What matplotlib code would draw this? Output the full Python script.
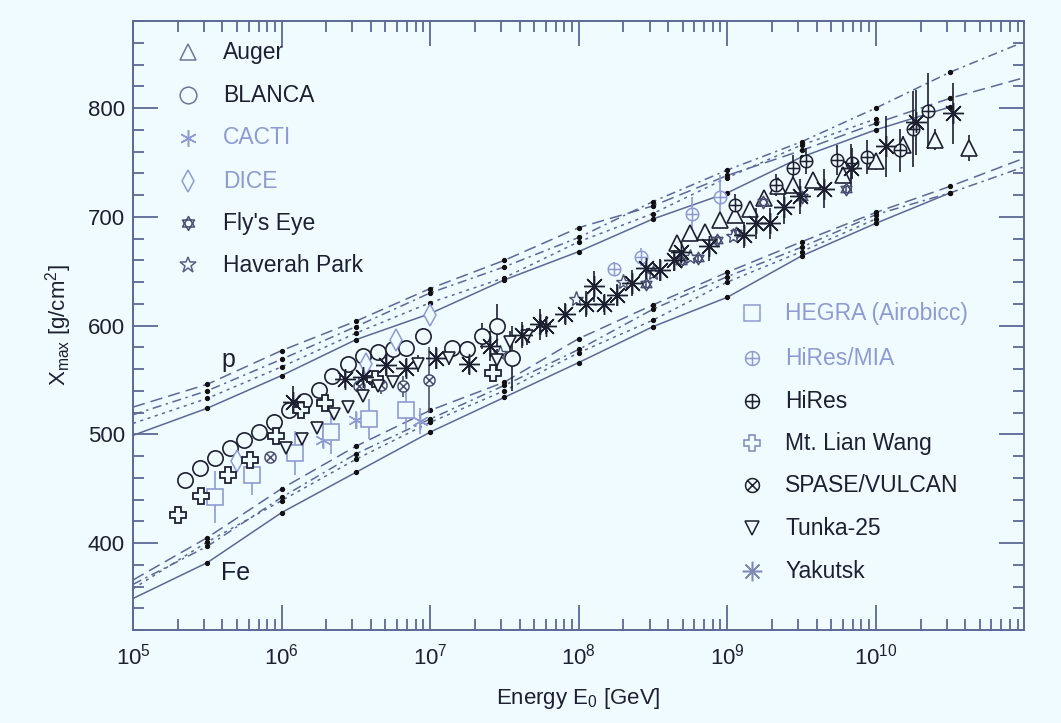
import numpy as np
import matplotlib
matplotlib.use('Agg')
import matplotlib.pyplot as plt
from matplotlib.path import Path
from matplotlib.ticker import LogLocator, MultipleLocator, NullFormatter

plt.rcParams['font.family'] = ['Liberation Sans', 'DejaVu Sans']
plt.rcParams['mathtext.default'] = 'regular'

# model curves, Xmax at half-decade energies (log10 E/GeV)
lg_model = [5.0, 5.5, 6.0, 6.5, 7.0, 7.5, 8.0, 8.5, 9.0, 9.5, 10.0, 10.5, 11.0]
p_dashed = [525, 546, 577, 604, 634, 660, 690, 710, 738, 761, 786, 809, 828]
p_dashdot = [518, 540, 569, 599, 630, 654, 681, 714, 743, 769, 800, 833, 861]
p_dotted = [510, 533, 562, 593, 621, 644, 677, 703, 736, 766, 790]
p_solid = [499, 524, 554, 587, 611, 642, 668, 698, 722, 755, 780, 801]
fe_dashed = [366, 405, 450, 489, 522, 548, 588, 619, 649, 677, 704, 728, 754]
fe_dashdot = [362, 397, 442, 482, 514, 545, 578, 615, 645, 672, 702, 722, 746]
fe_dotted = [358, 401, 439, 477, 511, 540, 575, 605, 640, 668, 698]
fe_solid = [349, 382, 428, 465, 502, 534, 566, 599, 626, 664, 694, 722]

# measurements: log10(E/GeV), Xmax, error
auger_lg = [8.66, 8.75, 8.85, 8.95, 9.05, 9.15, 9.25, 9.34, 9.44, 9.58, 9.78, 10.0, 10.18, 10.40, 10.63]
auger_x = [676, 685, 686, 697, 702, 707, 717, 728, 729, 734, 738, 751, 766, 771, 763]
auger_e = [5, 5, 5, 5, 5, 5, 6, 6, 6, 6, 7, 8, 8, 10, 12]

blanca_lg = [5.35, 5.45, 5.55, 5.65, 5.75, 5.85, 5.95, 6.05, 6.15, 6.25, 6.34, 6.45,
             6.55, 6.65, 6.75, 6.84, 6.95, 7.15, 7.25, 7.35, 7.45, 7.55]
blanca_x = [458, 469, 478, 487, 495, 502, 511, 522, 531, 541, 554, 565,
            572, 576, 578, 579, 590, 579, 578, 590, 600, 570]
blanca_e = [6, 6, 6, 6, 6, 6, 6, 6, 6, 6, 6, 6, 6, 6, 6, 6, 8, 8, 8, 12, 20, 30]

cacti_lg = [6.28, 6.50, 6.93]
cacti_x = [495, 513, 512]
cacti_e = [8, 8, 12]

dice_lg = [5.70, 6.57, 6.77, 7.0]
dice_x = [475, 565, 587, 610]
dice_e = [4, 5, 6, 10]

fly_lg = [8.45, 8.69, 8.80, 8.93, 9.06, 9.24, 9.50, 9.80]
fly_x = [638, 659, 662, 679, 685, 714, 718, 726]
fly_e = [4, 4, 4, 4, 4, 5, 5, 6]

haverah_lg = [7.47, 7.98, 8.30, 8.50, 8.75, 9.04]
haverah_x = [575, 624, 640, 648, 663, 682]
haverah_e = [4, 4, 4, 4, 4, 4]

hegra_lg = [5.55, 5.80, 6.09, 6.33, 6.59, 6.84]
hegra_x = [442, 463, 483, 502, 514, 522]
hegra_e = [24, 19, 20, 20, 18, 18]

hiresmia_lg = [8.24, 8.42, 8.76, 8.95]
hiresmia_x = [652, 663, 703, 718]
hiresmia_e = [6, 8, 15, 20]

hires_lg = [9.05, 9.33, 9.44, 9.53, 9.74, 9.84, 9.94, 10.16, 10.25, 10.35]
hires_x = [711, 729, 745, 751, 752, 749, 755, 761, 781, 797]
hires_e = [10, 10, 12, 12, 14, 14, 16, 20, 35, 35]

lian_lg = [5.30, 5.46, 5.64, 5.79, 5.96, 6.13, 6.29, 6.63, 7.42]
lian_x = [426, 443, 463, 476, 498, 522, 529, 551, 556]
lian_e = [3, 3, 3, 3, 3, 3, 3, 3, 3]

spase_lg = [5.92, 6.52, 6.67, 6.82, 6.99]
spase_x = [479, 544, 545, 544, 550]
spase_e = [4, 8, 8, 10, 30]

tunka_lg = [6.03, 6.14, 6.24, 6.35, 6.45, 6.55, 6.65, 6.75, 6.92, 7.13, 7.45, 7.54, 7.65]
tunka_x = [487, 496, 506, 519, 525, 535, 544, 548, 565, 570, 568, 585, 590]
tunka_e = [4, 4, 4, 5, 5, 5, 5, 5, 8, 6, 10, 10, 8]

yak_lg = [6.08, 6.43, 6.55, 6.70, 6.84, 7.04, 7.26, 7.40, 7.62, 7.74, 7.78, 7.91, 8.05,
          8.10, 8.17, 8.26, 8.36, 8.45, 8.55, 8.64, 8.69, 8.88, 9.11, 9.19, 9.29, 9.38,
          9.49, 9.65, 9.83, 10.07, 10.27, 10.52]
yak_x = [530, 551, 553, 564, 561, 570, 565, 581, 591, 601, 600, 611, 620,
         636, 620, 628, 639, 653, 651, 660, 668, 673, 683, 694, 694, 709,
         719, 726, 745, 765, 787, 795]
yak_e = [14, 8, 8, 10, 8, 10, 10, 14, 12, 14, 8, 10, 12,
         14, 8, 10, 12, 12, 10, 10, 10, 14, 12, 14, 14, 16,
         16, 18, 22, 28, 30, 28]

bg = '#effbff'
dark = '#1d2030'
grey = '#4a5070'
light = '#8f9bd0'
linec = '#5d6894'


def mk(polys, lines=()):
    verts, codes = [], []
    for poly in polys:
        verts += list(poly) + [poly[0]]
        codes += [Path.MOVETO] + [Path.LINETO] * (len(poly) - 1) + [Path.CLOSEPOLY]
    for a, b in lines:
        verts += [a, b]
        codes += [Path.MOVETO, Path.LINETO]
    return Path(verts, codes)


t = np.linspace(0, 2 * np.pi, 40, endpoint=False)
circ = list(zip(np.cos(t), np.sin(t)))
circ_plus = mk([circ], [((-1, 0), (1, 0)), ((0, -1), (0, 1))])
circ_x = mk([circ], [((-0.7, -0.7), (0.7, 0.7)), ((-0.7, 0.7), (0.7, -0.7))])
david = mk([[(0, 1), (-0.866, -0.5), (0.866, -0.5)],
            [(0, -1), (-0.866, 0.5), (0.866, 0.5)]])

fig = plt.figure(figsize=(10.61, 7.23), dpi=100, facecolor=bg)
ax = fig.add_axes([0.1254, 0.1286, 0.8398, 0.8423], facecolor=bg)

# model lines
styles = {'dashed': (0, (8, 4)), 'dashdot': (0, (6, 3, 1.5, 3)),
          'dotted': (0, (2, 3)), 'solid': '-'}
models = [(p_dashed, 'dashed'), (p_dashdot, 'dashdot'), (p_dotted, 'dotted'), (p_solid, 'solid'),
          (fe_dashed, 'dashed'), (fe_dashdot, 'dashdot'), (fe_dotted, 'dotted'), (fe_solid, 'solid')]
for vals, st in models:
    e = 10 ** np.array(lg_model[:len(vals)])
    ax.plot(e, vals, color=linec, ls=styles[st], lw=1.1, zorder=2)
    last = -1 if len(vals) == 13 else len(vals)
    ax.plot(e[1:last], vals[1:last], 'o', color='#111111', ms=2.8, zorder=3)

series = [
    (auger_lg, auger_x, auger_e, '^', dark, 11, 1.2),
    (blanca_lg, blanca_x, blanca_e, 'o', dark, 11, 1.2),
    (cacti_lg, cacti_x, cacti_e, (6, 2, 0), light, 12, 1.0),
    (dice_lg, dice_x, dice_e, 'd', light, 11, 1.1),
    (fly_lg, fly_x, fly_e, david, grey, 9, 1.1),
    (haverah_lg, haverah_x, haverah_e, '*', grey, 11, 1.0),
    (hegra_lg, hegra_x, hegra_e, 's', light, 12, 1.2),
    (hiresmia_lg, hiresmia_x, hiresmia_e, circ_plus, light, 9, 1.1),
    (hires_lg, hires_x, hires_e, circ_plus, dark, 9, 1.1),
    (lian_lg, lian_x, lian_e, 'P', dark, 11, 1.3),
    (spase_lg, spase_x, spase_e, circ_x, grey, 8, 1.1),
    (tunka_lg, tunka_x, tunka_e, 'v', dark, 9, 1.2),
    (yak_lg, yak_x, yak_e, (8, 2, 0), dark, 15, 1.0),
]
for lg, xm, er, m, c, s, w in series:
    ax.errorbar(10 ** np.array(lg), xm, yerr=er, fmt='none', ecolor=c, elinewidth=1.2,
                capsize=0, zorder=4)
    ax.plot(10 ** np.array(lg), xm, ls='none', marker=m, ms=s, mfc=bg, mec=c,
            mew=w, zorder=5)

ax.set_xscale('log')
ax.set_xlim(1e5, 0.995e11)
ax.set_ylim(320, 880)
ax.set_xticks([1e5, 1e6, 1e7, 1e8, 1e9, 1e10])
ax.xaxis.set_minor_locator(LogLocator(base=10, subs=np.arange(2, 10), numticks=20))
ax.xaxis.set_minor_formatter(NullFormatter())
ax.yaxis.set_major_locator(MultipleLocator(100))
ax.yaxis.set_minor_locator(MultipleLocator(20))
ax.set_yticks([400, 500, 600, 700, 800])
ax.tick_params(which='both', direction='in', top=True, right=True, color=linec,
               labelsize=16, labelcolor=dark)
ax.tick_params(which='major', length=18, width=1.3)
ax.tick_params(which='minor', length=8, width=1.3)
ax.tick_params(axis='x', pad=10)
ax.tick_params(axis='y', pad=6)
for sp in ax.spines.values():
    sp.set_color(linec)
    sp.set_linewidth(1.4)

ax.set_xlabel('Energy E$_0$ [GeV]', fontsize=16, color=dark, labelpad=12)
ax.set_ylabel('X$_{max}$ [g/cm$^2$]', fontsize=16, color=dark, labelpad=10)

ax.text(10 ** 5.64, 568, 'p', fontsize=18, color=dark, ha='center', va='center')
ax.text(10 ** 5.69, 372, 'Fe', fontsize=18, color=dark, ha='center', va='center')

# legends
leg_left = [('Auger', '^', '#6f7796', dark, 12), ('BLANCA', 'o', '#6f7796', dark, 12),
            ('CACTI', (6, 2, 0), light, light, 12), ('DICE', 'd', light, light, 11),
            ("Fly's Eye", david, grey, dark, 10), ('Haverah Park', '*', '#5a6080', dark, 12)]
leg_right = [('HEGRA (Airobicc)', 's', light, light, 12), ('HiRes/MIA', circ_plus, light, light, 10),
             ('HiRes', circ_plus, dark, dark, 10), ('Mt. Lian Wang', 'P', '#7d88b5', dark, 12),
             ('SPASE/VULCAN', circ_x, dark, dark, 10), ('Tunka-25', 'v', dark, dark, 10),
             ('Yakutsk', (8, 2, 0), '#7d88b5', dark, 14)]
yl = [0.949, 0.878, 0.808, 0.737, 0.668, 0.599]
yr = [0.5205, 0.4466, 0.376, 0.307, 0.238, 0.1675, 0.0969]
for (name, m, mc, tc, s), y in zip(leg_left, yl):
    ax.plot([0.0617], [y], transform=ax.transAxes, marker=m, ms=s, mfc='none', mec=mc,
            mew=1.1, ls='none', clip_on=False)
    ax.text(0.101, y, name, transform=ax.transAxes, fontsize=16.5, color=tc, va='center')
for (name, m, mc, tc, s), y in zip(leg_right, yr):
    ax.plot([0.695], [y], transform=ax.transAxes, marker=m, ms=s, mfc='none', mec=mc,
            mew=1.1, ls='none', clip_on=False)
    ax.text(0.732, y, name, transform=ax.transAxes, fontsize=16.5, color=tc, va='center')

fig.savefig('out.png', dpi=100, facecolor=bg)
